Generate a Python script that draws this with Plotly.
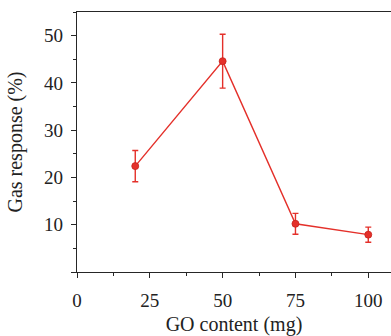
import plotly.graph_objects as go

# GO loading (mg) vs. gas response with standard-deviation error bars
go_content = [20, 50, 75, 100]
gas_response = [22.4, 44.6, 10.2, 7.9]
response_err = [3.3, 5.7, 2.2, 1.6]

x_ticks = [0, 25, 50, 75, 100]
y_ticks = [0, 10, 20, 30, 40, 50]
y_tick_text = ["", "10", "20", "30", "40", "50"]

RED = "#e4302a"
AXIS = "#262626"
FONT = "Liberation Serif"

fig = go.Figure(
    go.Scatter(
        x=go_content,
        y=gas_response,
        mode="lines+markers",
        line=dict(color=RED, width=1.4),
        marker=dict(color=RED, size=7, line=dict(color="#c8221c", width=0.8)),
        error_y=dict(type="data", array=response_err, visible=True,
                     color=RED, thickness=1.4, width=3),
        showlegend=False,
    )
)

fig.update_layout(
    width=391,
    height=336,
    margin=dict(l=77, r=0, t=12, b=64, autoexpand=False),
    paper_bgcolor="white",
    plot_bgcolor="white",
    font=dict(family=FONT, size=19, color="#222222"),
)

fig.update_xaxes(
    range=[0, 107.8],
    automargin=False,
    tickmode="array",
    tickvals=x_ticks,
    ticktext=[str(v) for v in x_ticks],
    ticks="outside",
    ticklen=5,
    tickwidth=1.2,
    tickcolor=AXIS,
    minor=dict(tickmode="linear", tick0=0, dtick=12.5, ticks="outside",
               ticklen=3, tickwidth=1, tickcolor=AXIS),
    showline=True,
    linecolor=AXIS,
    linewidth=1.4,
    mirror=True,
    showgrid=False,
    zeroline=False,
    tickfont=dict(family=FONT, size=19),
    ticklabelstandoff=6,
    title=dict(text="GO content (mg)", font=dict(family=FONT, size=20), standoff=14),
)

fig.update_yaxes(
    range=[0, 55],
    automargin=False,
    tickmode="array",
    tickvals=y_ticks,
    ticktext=y_tick_text,
    ticks="outside",
    ticklen=5,
    tickwidth=1.2,
    tickcolor=AXIS,
    minor=dict(tickmode="linear", tick0=0, dtick=5, ticks="outside",
               ticklen=3, tickwidth=1, tickcolor=AXIS),
    showline=True,
    linecolor=AXIS,
    linewidth=1.4,
    showgrid=False,
    zeroline=False,
    tickfont=dict(family=FONT, size=19),
    ticklabelstandoff=4,
    title=dict(text="Gas response (%)", font=dict(family=FONT, size=20), standoff=16),
)

fig.write_html("out.html")
